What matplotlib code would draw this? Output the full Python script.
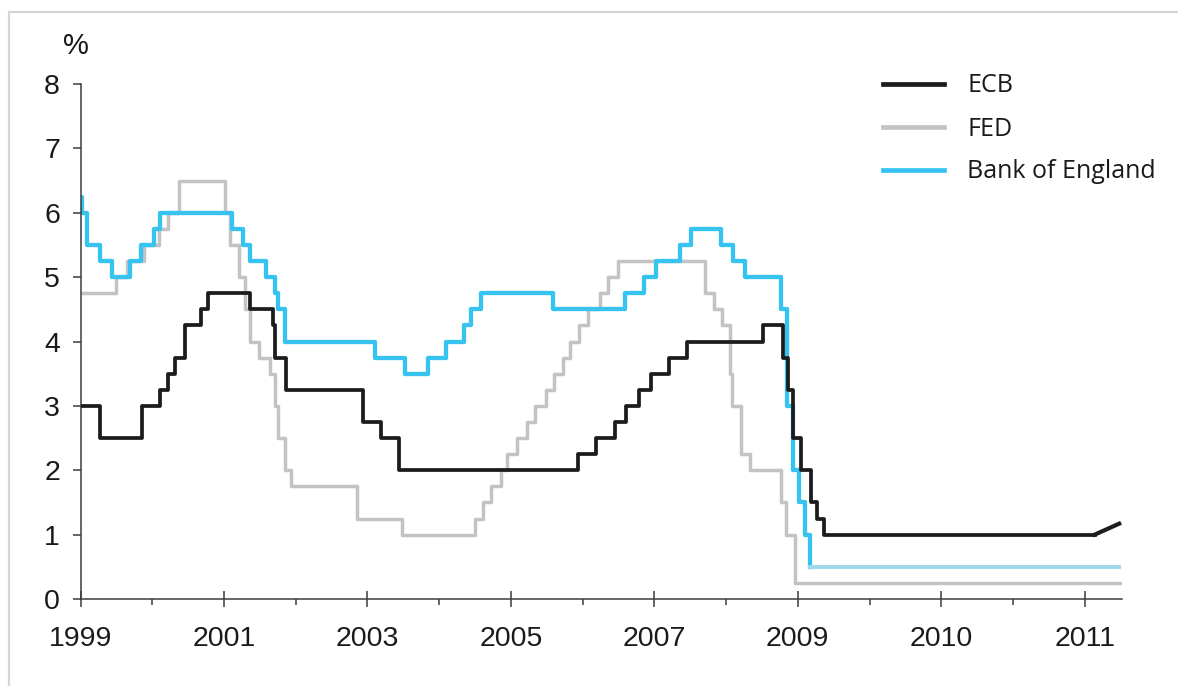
import numpy as np
import matplotlib
matplotlib.use("Agg")
import matplotlib.pyplot as plt
from matplotlib.patches import Rectangle

# ---------------- data (decimal years, % policy rate; step changes) ----------------
ecb_dates = [1999.0, 1999.27, 1999.86, 2000.11, 2000.22, 2000.32, 2000.46, 2000.68, 2000.78,
             2001.37, 2001.68, 2001.71, 2001.87, 2002.94, 2003.19, 2003.44, 2005.93, 2006.18,
             2006.45, 2006.61, 2006.78, 2006.95, 2007.20, 2007.45, 2008.52, 2008.79, 2008.86,
             2008.94, 2009.05, 2009.19, 2009.27, 2009.36, 2011.25]
ecb_rates = [3.0, 2.5, 3.0, 3.25, 3.5, 3.75, 4.25, 4.5, 4.75,
             4.5, 4.25, 3.75, 3.25, 2.75, 2.5, 2.0, 2.25, 2.5,
             2.75, 3.0, 3.25, 3.5, 3.75, 4.0, 4.25, 3.75, 3.25,
             2.5, 2.0, 1.5, 1.25, 1.0, 1.0]
ecb_tail_dates = [2011.25, 2011.42]
ecb_tail_rates = [1.0, 1.17]

fed_dates = [1999.0, 1999.49, 1999.65, 1999.88, 2000.09, 2000.22, 2000.37, 2001.01, 2001.08,
             2001.21, 2001.30, 2001.37, 2001.49, 2001.64, 2001.71, 2001.75, 2001.85, 2001.94,
             2002.85, 2003.48, 2004.50, 2004.61, 2004.72, 2004.86, 2004.95, 2005.09, 2005.22,
             2005.34, 2005.49, 2005.60, 2005.72, 2005.83, 2005.95, 2006.08, 2006.24, 2006.36,
             2006.49, 2007.71, 2007.83, 2007.94, 2008.06, 2008.08, 2008.21, 2008.33, 2008.77,
             2008.83, 2008.96, 2011.44]
fed_rates = [4.75, 5.0, 5.25, 5.5, 5.75, 6.0, 6.5, 6.0, 5.5,
             5.0, 4.5, 4.0, 3.75, 3.5, 3.0, 2.5, 2.0, 1.75,
             1.25, 1.0, 1.25, 1.5, 1.75, 2.0, 2.25, 2.5, 2.75,
             3.0, 3.25, 3.5, 3.75, 4.0, 4.25, 4.5, 4.75, 5.0,
             5.25, 4.75, 4.5, 4.25, 3.5, 3.0, 2.25, 2.0, 1.5,
             1.0, 0.25, 0.25]

boe_dates = [1999.0, 1999.02, 1999.09, 1999.27, 1999.44, 1999.69, 1999.84, 2000.03, 2000.11,
             2001.11, 2001.26, 2001.36, 2001.59, 2001.71, 2001.76, 2001.85, 2003.10, 2003.52,
             2003.85, 2004.10, 2004.34, 2004.44, 2004.59, 2005.59, 2006.59, 2006.86, 2007.03,
             2007.36, 2007.51, 2007.93, 2008.10, 2008.27, 2008.77, 2008.85, 2008.93, 2009.02,
             2009.10, 2009.17, 2011.42]
boe_rates = [6.25, 6.0, 5.5, 5.25, 5.0, 5.25, 5.5, 5.75, 6.0,
             5.75, 5.5, 5.25, 5.0, 4.75, 4.5, 4.0, 3.75, 3.5,
             3.75, 4.0, 4.25, 4.5, 4.75, 4.5, 4.75, 5.0, 5.25,
             5.5, 5.75, 5.5, 5.25, 5.0, 4.5, 3.0, 2.0, 1.5,
             1.0, 0.5, 0.5]

series_labels = ["ECB", "FED", "Bank of England"]
x_tick_labels = ["1999", "2001", "2003", "2005", "2007", "2009", "2010", "2011"]
y_ticks = [0, 1, 2, 3, 4, 5, 6, 7, 8]

# chart's time axis: two years per tick up to mid-2009, one year per tick after
T_ANCHOR = [1989.0, 2009.36, 2022.36]
P_ANCHOR = [-5.0, 5.18, 18.18]


def forward(t):
    return np.interp(t, T_ANCHOR, P_ANCHOR)


def inverse(p):
    return np.interp(p, P_ANCHOR, T_ANCHOR)


# ---------------- figure ----------------
W, H = 1178, 686
fig = plt.figure(figsize=(W / 100, H / 100), dpi=100)
fig.patch.set_facecolor("white")

# light outer frame (partly cropped)
fig.patches.append(Rectangle((9 / W, -0.1), 1.2, 1 - 12 / H + 0.1, transform=fig.transFigure,
                             fill=False, edgecolor="#d6d6d6", linewidth=1.6))

ax = fig.add_axes([80.5 / W, 1 - 599 / H, (1122 - 80.5) / W, (599 - 84) / H])
ax.set_xscale("function", functions=(forward, inverse))

C_ECB, C_FED, C_BOE, C_BOE2 = "#1c1c1c", "#c3c3c3", "#36c3f0", "#9ed8eb"

l_fed, = ax.plot(fed_dates, fed_rates, drawstyle="steps-post", color=C_FED, lw=2.5, zorder=2)
l_ecb, = ax.plot(ecb_dates, ecb_rates, drawstyle="steps-post", color=C_ECB, lw=2.7, zorder=3)
ax.plot(ecb_tail_dates, ecb_tail_rates, color=C_ECB, lw=3.0, zorder=3)
l_boe, = ax.plot(boe_dates[:-1], boe_rates[:-1], drawstyle="steps-post", color=C_BOE, lw=3.1,
                 zorder=2.5)
ax.plot(boe_dates[-2:], boe_rates[-2:], drawstyle="steps-post", color=C_BOE2, lw=2.8, zorder=2.5)

ax.set_xlim(1999.0, inverse(7.26))
ax.set_ylim(0, 8)

# axes styling
for s in ["top", "right"]:
    ax.spines[s].set_visible(False)
for s in ["left", "bottom"]:
    ax.spines[s].set_color("#3c3c3c")
    ax.spines[s].set_linewidth(1.1)

TICK_FONT = "Liberation Sans"
ax.set_yticks(y_ticks)
ax.set_yticklabels([str(v) for v in y_ticks], fontsize=20.5, family=TICK_FONT, color="#1a1a1a")
ax.set_xticks(inverse(np.arange(len(x_tick_labels))))
ax.set_xticklabels(x_tick_labels, fontsize=20.5, family=TICK_FONT, color="#1a1a1a")
ax.set_xticks(inverse(np.arange(0.5, len(x_tick_labels) - 1, 1.0)), minor=True)

ax.tick_params(axis="y", direction="out", length=5.8, width=1.1, color="#3c3c3c", pad=9)
ax.tick_params(axis="x", which="major", direction="inout", length=12, width=1.1,
               color="#3c3c3c", pad=13.5)
ax.tick_params(axis="x", which="minor", direction="out", length=4.3, width=1.1,
               color="#3c3c3c")

fig.text(76 / W, 1 - 46 / H, "%", ha="center", va="center", fontsize=21, family=TICK_FONT,
         color="#1a1a1a")

# legend
LEG_FONT = "Open Sans"
leg = ax.legend([l_ecb, l_fed, l_boe], series_labels, loc="upper left",
                bbox_to_anchor=(883 / W, 1 - 73.5 / H), bbox_transform=fig.transFigure,
                frameon=False, borderpad=0, borderaxespad=0, handlelength=2.44,
                handletextpad=0.92, labelspacing=0.72,
                prop={"family": LEG_FONT, "size": 18})
for h in leg.legend_handles:
    h.set_linewidth(3.4)
for t in leg.get_texts():
    t.set_color("#1a1a1a")

fig.savefig("out.png", dpi=100, facecolor="white")
